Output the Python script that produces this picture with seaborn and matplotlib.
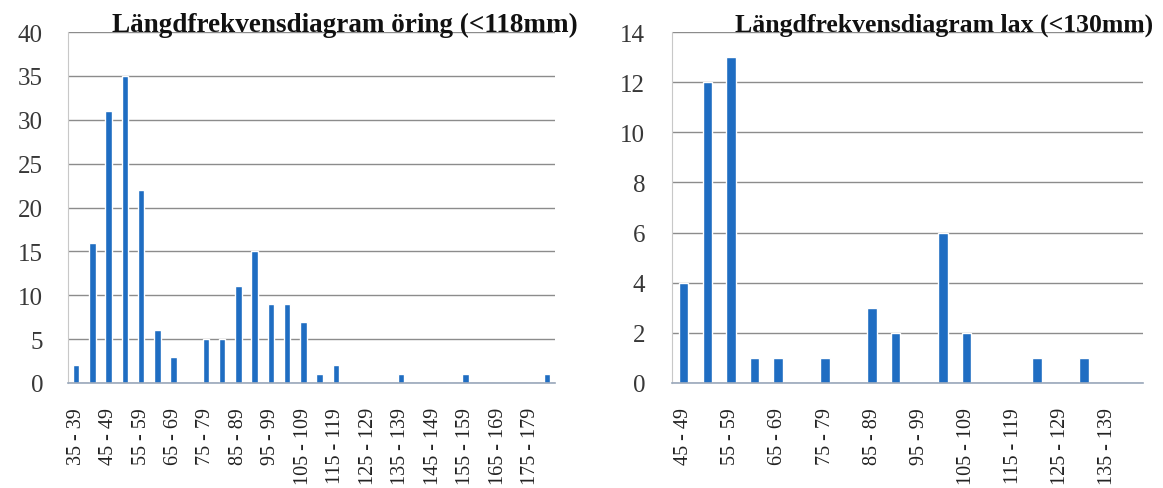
import numpy as np
import pandas as pd
import matplotlib
matplotlib.use("Agg")
import matplotlib.pyplot as plt
from matplotlib.ticker import FixedLocator, FixedFormatter
import seaborn as sns

# ---------------- data ----------------
oring_cats = ["35 - 39", "40 - 44", "45 - 49", "50 - 54", "55 - 59", "60 - 64",
              "65 - 69", "70 - 74", "75 - 79", "80 - 84", "85 - 89", "90 - 94",
              "95 - 99", "100 - 104", "105 - 109", "110 - 114", "115 - 119",
              "120 - 124", "125 - 129", "130 - 134", "135 - 139", "140 - 144",
              "145 - 149", "150 - 154", "155 - 159", "160 - 164", "165 - 169",
              "170 - 174", "175 - 179", "180 - 184"]
oring_vals = [2, 16, 31, 35, 22, 6, 3, 0, 5, 5, 11, 15, 9, 9, 7, 1, 2,
              0, 0, 0, 1, 0, 0, 0, 1, 0, 0, 0, 0, 1]
oring_labels = ["35 - 39", "45 - 49", "55 - 59", "65 - 69", "75 - 79", "85 - 89",
                "95 - 99", "105 - 109", "115 - 119", "125 - 129", "135 - 139",
                "145 - 149", "155 - 159", "165 - 169", "175 - 179"]
oring_title = "Längdfrekvensdiagram öring (<118mm)"
oring_yticks = [0, 5, 10, 15, 20, 25, 30, 35, 40]

lax_cats = ["45 - 49", "50 - 54", "55 - 59", "60 - 64", "65 - 69", "70 - 74",
            "75 - 79", "80 - 84", "85 - 89", "90 - 94", "95 - 99", "100 - 104",
            "105 - 109", "110 - 114", "115 - 119", "120 - 124", "125 - 129",
            "130 - 134", "135 - 139", "140 - 144"]
lax_vals = [4, 12, 13, 1, 1, 0, 1, 0, 3, 2, 0, 6, 2, 0, 0, 1, 0, 1, 0, 0]
lax_labels = ["45 - 49", "55 - 59", "65 - 69", "75 - 79", "85 - 89", "95 - 99",
              "105 - 109", "115 - 119", "125 - 129", "135 - 139"]
lax_title = "Längdfrekvensdiagram lax (<130mm)"
lax_yticks = [0, 2, 4, 6, 8, 10, 12, 14]

# ---------------- style ----------------
sns.set_style("white")
plt.rcParams["font.family"] = ["Liberation Serif", "DejaVu Serif"]

BAR = "#1f6dc2"
GRID = "#8c8c8c"
W, H = 1163, 489
PT = 0.72  # points per pixel at dpi 100
fig = plt.figure(figsize=(W / 100, H / 100), dpi=100)

def panel(rect, cats, vals, labels, yticks, title, title_xy, title_size,
          ypad_px):
    ax = fig.add_axes(rect)
    df = pd.DataFrame({"cat": cats, "val": vals})
    sns.barplot(data=df, x="cat", y="val", order=cats, color=BAR,
                width=0.4, saturation=1, ax=ax)
    n = len(cats)
    ax.set_xlim(-0.5, n - 0.5)
    ax.set_ylim(0, yticks[-1])
    ax.set_xlabel("")
    ax.set_ylabel("")
    # tick marks at category boundaries
    ax.xaxis.set_major_locator(FixedLocator(np.arange(n + 1) - 0.5))
    ax.xaxis.set_major_formatter(FixedFormatter([""] * (n + 1)))
    ax.tick_params(axis="x", which="major", length=7 * PT, width=1,
                   color="#dcc9b6", direction="out")
    # labels on every other category
    pos = [cats.index(l) for l in labels]
    ax.xaxis.set_minor_locator(FixedLocator(pos))
    ax.xaxis.set_minor_formatter(FixedFormatter(labels))
    ax.tick_params(axis="x", which="minor", length=0, pad=24 * PT,
                   labelsize=14.5, labelrotation=90, labelcolor="#222222")
    for t in ax.xaxis.get_minorticklabels():
        t.set_va("top")
        t.set_ha("center")
    ax.set_yticks(yticks)
    ax.tick_params(axis="y", length=8 * PT, width=1, color=GRID,
                   pad=ypad_px * PT, labelsize=18, labelcolor="#383838",
                   direction="out")
    ax.yaxis.grid(True, color=GRID, linewidth=1)
    ax.set_axisbelow(True)
    for s in ["top", "right"]:
        ax.spines[s].set_visible(False)
    ax.spines["left"].set_color("#c8c8c8")
    ax.spines["bottom"].set_color("#9aa8bb")
    ax.spines["bottom"].set_linewidth(1.2)
    fig.text(title_xy[0] / W, 1 - title_xy[1] / H, title, ha="left",
             va="baseline", fontsize=title_size, fontweight="bold",
             color="#111111")
    return ax

bottom = 1 - 384 / H
height = (384 - 33) / H
panel([68 / W, bottom, 487 / W, height], oring_cats, oring_vals, oring_labels,
      oring_yticks, oring_title, (112, 32), 19.5, 17)
panel([672 / W, bottom, 471 / W, height], lax_cats, lax_vals, lax_labels,
      lax_yticks, lax_title, (735, 32), 18.5, 19)

fig.savefig("out.png", dpi=100)
